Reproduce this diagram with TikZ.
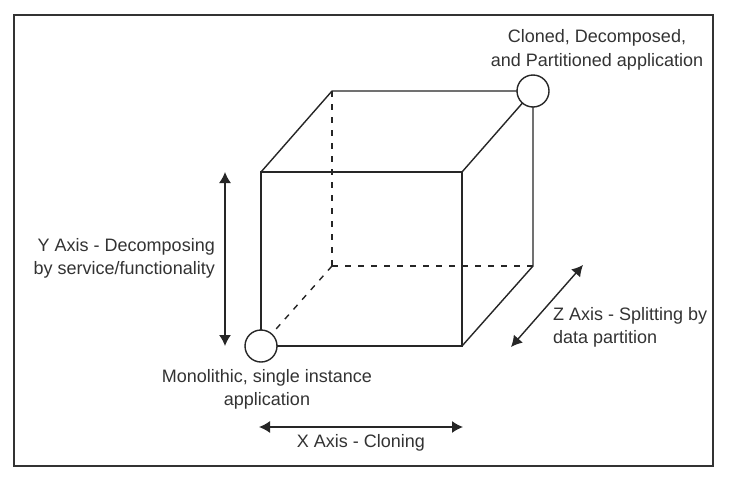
\documentclass[tikz,border=0pt]{standalone}
\usepackage{fontspec}
\setmainfont{Liberation Sans}
\usetikzlibrary{arrows.meta}
\begin{document}
\begin{tikzpicture}[x=1pt,y=-1pt,
  edge/.style={line width=1.4pt,draw=black!85},
  hidden/.style={edge,dash pattern=on 6pt off 7pt},
  corner/.style={circle,draw=black!85,line width=1.4pt,fill=white,minimum size=32pt,inner sep=0pt},
  axis/.style={line width=1.4pt,draw=black!85,{Latex[length=11pt,width=12pt]}-{Latex[length=11pt,width=12pt]}},
  lbl/.style={font=\fontsize{18}{23.5}\selectfont,text=black!80,inner sep=0pt}]
\useasboundingbox (0,0) rectangle (730,477);
\fill[white] (0,0) rectangle (730,477);
\draw[line width=2.5pt,draw=black!80] (14,15) rectangle (713,466);
% cube corners
\coordinate (ftl) at (261,172);
\coordinate (ftr) at (462,172);
\coordinate (fbr) at (462,346);
\coordinate (fbl) at (261,346);
\coordinate (btl) at (332,91);
\coordinate (btr) at (533,91);
\coordinate (bbr) at (533,266);
\coordinate (bbl) at (332,266);
% hidden edges
\draw[hidden] (btl) -- (bbl);
\draw[hidden] (bbl) -- (bbr);
\draw[hidden] (bbl) -- (fbl);
% visible edges
\draw[edge] (fbl) -- (ftl) -- (ftr) -- (fbr) -- cycle;
\draw[edge] (ftl) -- (btl) -- (btr);
\draw[edge] (ftr) -- (btr) -- (bbr) -- (fbr);
% corner circles
\node[corner] (mono) at (fbl) {};
\node[corner] (full) at (btr) {};
% labels
\node[lbl,align=center] (fulltxt) at (597,50) {Cloned, Decomposed,\\and Partitioned application};
\node[lbl,align=center] (monotxt) at (267,389.5) {Monolithic, single instance\\application};
\node[lbl,align=right,anchor=east] (ytxt) at (215,258.5) {Y Axis - Decomposing\\by service/functionality};
\node[lbl,align=left,anchor=west] (ztxt) at (553,327.5) {Z Axis - Splitting by\\data partition};
\node[lbl] (xtxt) at (361,443) {X Axis - Cloning};
% axes
\coordinate (ya) at (225,172);
\coordinate (yb) at (225,346);
\coordinate (xa) at (259,427);
\coordinate (xb) at (463,427);
\coordinate (za) at (583,265);
\coordinate (zb) at (511,347);
\draw[axis] (ya) -- (yb);
\draw[axis] (xa) -- (xb);
\draw[axis] (za) -- (zb);
\end{tikzpicture}
\end{document}
